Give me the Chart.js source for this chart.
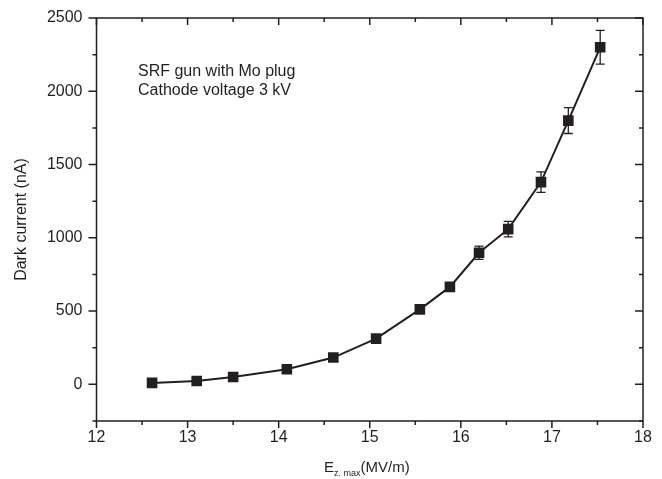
<!DOCTYPE html>
<html lang="en">
<head>
    <meta charset="UTF-8">
    <title>Dark current vs Ez max</title>
    <script src="https://cdn.jsdelivr.net/npm/chart.js"></script>
    <style>
        body { margin: 0; background: #fff; }
        #wrap { width: 662px; height: 479px; }
    </style>
</head>
<body>
    <div id="wrap"><canvas id="darkChart" width="662" height="479"></canvas></div>

    <script>
        // values
        const ez = [12.61, 13.1, 13.5, 14.09, 14.6, 15.07, 15.55, 15.88, 16.2, 16.52, 16.88, 17.18, 17.53];
        const current = [10, 23, 50, 103, 183, 312, 512, 665, 898, 1059, 1380, 1800, 2300];
        const currentErr = [8, 8, 8, 8, 10, 12, 15, 22, 45, 53, 70, 88, 115];
        const noteLines = ['SRF gun with Mo plug', 'Cathode voltage 3 kV'];
        const yTitle = 'Dark current (nA)';

        const ink = '#231f20';
        const font = "Arial, 'Liberation Sans', sans-serif";

        // frame with inside/outside ticks, error bars, titles and note
        const extras = {
            id: 'extras',
            beforeDatasetsDraw(chart) {
                const ctx = chart.ctx;
                const xs = chart.scales.x, ys = chart.scales.y;
                ctx.save();
                ctx.strokeStyle = ink;
                ctx.lineWidth = 1.3;
                ez.forEach((v, i) => {
                    const px = xs.getPixelForValue(v);
                    const top = ys.getPixelForValue(current[i] + currentErr[i]);
                    const bot = ys.getPixelForValue(current[i] - currentErr[i]);
                    ctx.beginPath();
                    ctx.moveTo(px, top); ctx.lineTo(px, bot);
                    ctx.moveTo(px - 4.5, top); ctx.lineTo(px + 4.5, top);
                    ctx.moveTo(px - 4.5, bot); ctx.lineTo(px + 4.5, bot);
                    ctx.stroke();
                });
                ctx.restore();
            },
            afterDraw(chart) {
                const ctx = chart.ctx;
                const a = chart.chartArea;
                const xs = chart.scales.x, ys = chart.scales.y;
                ctx.save();
                ctx.strokeStyle = ink;
                ctx.lineWidth = 1.5;
                ctx.strokeRect(a.left, a.top, a.right - a.left, a.bottom - a.top);

                ctx.beginPath();
                xs.ticks.forEach(t => {
                    const px = xs.getPixelForValue(t.value);
                    const len = Number.isInteger(t.value) ? 7 : 4;
                    ctx.moveTo(px, a.bottom); ctx.lineTo(px, a.bottom + len);
                    ctx.moveTo(px, a.top); ctx.lineTo(px, a.top + len);
                });
                ys.ticks.forEach(t => {
                    const py = ys.getPixelForValue(t.value);
                    const len = t.value % 500 === 0 ? 8 : 4;
                    ctx.moveTo(a.left - len, py); ctx.lineTo(a.left, py);
                    ctx.moveTo(a.right - len, py); ctx.lineTo(a.right, py);
                });
                ctx.stroke();

                ctx.fillStyle = ink;
                // note
                ctx.font = '16px ' + font;
                ctx.textAlign = 'left';
                ctx.textBaseline = 'alphabetic';
                ctx.fillText(noteLines[0], 138, 76);
                ctx.fillText(noteLines[1], 138, 95);

                // x title with subscript
                let x0 = 324;
                const base = 472;
                ctx.font = '15px ' + font;
                ctx.fillText('E', x0, base);
                x0 += ctx.measureText('E').width;
                ctx.font = '9px ' + font;
                ctx.fillText('z. max', x0, base + 4);
                x0 += ctx.measureText('z. max').width;
                ctx.font = '15px ' + font;
                ctx.fillText('(MV/m)', x0, base);

                // y title
                ctx.font = '16px ' + font;
                ctx.translate(22, (a.top + a.bottom) / 2);
                ctx.rotate(-Math.PI / 2);
                ctx.textAlign = 'center';
                ctx.textBaseline = 'middle';
                ctx.fillText(yTitle, 0, 0);
                ctx.restore();
            }
        };

        const points = ez.map((v, i) => ({ x: v, y: current[i] }));

        new Chart(document.getElementById('darkChart'), {
            type: 'line',
            data: {
                datasets: [{
                    data: points,
                    borderColor: ink,
                    borderWidth: 2,
                    tension: 0,
                    pointStyle: 'rect',
                    pointRadius: 7.5,
                    pointBackgroundColor: ink,
                    pointBorderWidth: 0
                }]
            },
            options: {
                responsive: false,
                animation: false,
                layout: { padding: { top: 18, right: 19, left: 0, bottom: 0 } },
                plugins: {
                    legend: { display: false },
                    tooltip: { enabled: false }
                },
                scales: {
                    x: {
                        type: 'linear',
                        min: 12,
                        max: 18,
                        afterFit: s => { s.height = 58; s.paddingLeft = 0; s.paddingRight = 0; },
                        border: { display: false },
                        grid: { display: false, drawTicks: false },
                        ticks: {
                            stepSize: 0.5,
                            autoSkip: false,
                            maxRotation: 0,
                            padding: 7,
                            color: ink,
                            font: { family: font, size: 16 },
                            callback: v => Number.isInteger(v) ? v : ''
                        }
                    },
                    y: {
                        min: -250,
                        max: 2500,
                        afterFit: s => { s.width = 96.5; s.paddingTop = 0; s.paddingBottom = 0; },
                        border: { display: false },
                        grid: { display: false, drawTicks: false },
                        ticks: {
                            stepSize: 250,
                            autoSkip: false,
                            padding: 14,
                            color: ink,
                            font: { family: font, size: 16 },
                            callback: v => (v >= 0 && v % 500 === 0) ? v : ''
                        }
                    }
                }
            },
            plugins: [extras]
        });
    </script>
</body>
</html>
